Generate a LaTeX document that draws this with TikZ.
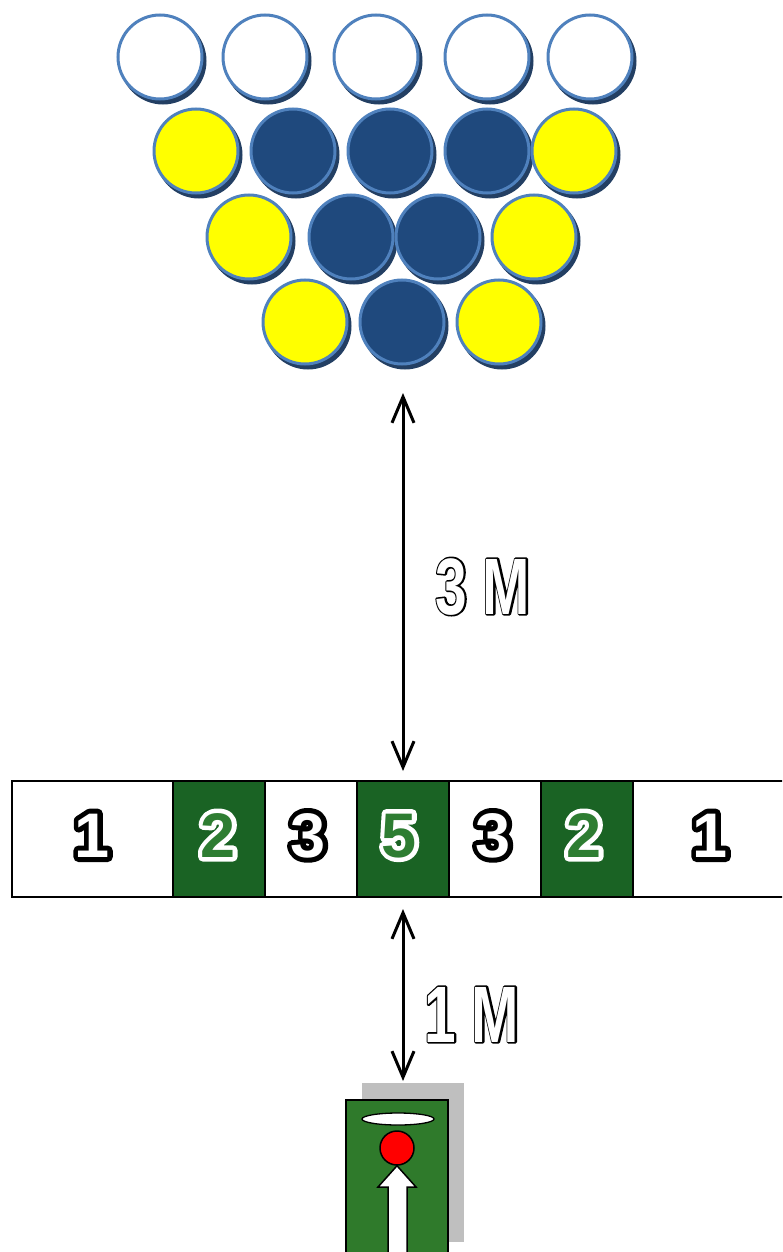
\documentclass[tikz,border=0pt]{standalone}
\usepackage{fontspec}
\usetikzlibrary{arrows.meta,shapes.geometric}
\setmainfont{Liberation Sans}
\newfontfamily\condfont[FakeStretch=0.71]{Liberation Sans}
% outlined text: stroke layer (colour as "r g b", width) under the filled text
\newcommand\outl[3]{\rlap{\special{pdf:literal direct 1 Tr #2 w 1 j 1 J #1 RG}#3\special{pdf:literal direct 0 Tr}}#3}
\definecolor{navy}{HTML}{1F497D}
\definecolor{rim}{HTML}{4F81BD}
\definecolor{shade}{HTML}{233F63}
\definecolor{pinyellow}{HTML}{FFFF00}
\definecolor{cellgreen}{HTML}{1A6324}
\definecolor{digitgreen}{HTML}{2E7D32}
\definecolor{playergreen}{HTML}{2F7A2B}
\definecolor{shadowgray}{HTML}{BFBFBF}
\tikzset{
  pin/.style={circle, minimum size=84pt, inner sep=0pt, draw=rim, line width=3pt,
    preaction={draw=shade, fill=shade, transform canvas={xshift=3pt, yshift=-4pt}}},
  whitepin/.style={pin, fill=white},
  yellowpin/.style={pin, fill=pinyellow},
  navypin/.style={pin, fill=navy},
  cellbox/.style={draw=black, line width=2pt, minimum height=116pt, anchor=north west, inner sep=0pt},
  whitecell/.style={cellbox, fill=white},
  greencell/.style={cellbox, fill=cellgreen},
  blackdigit/.style={anchor=base, text=white, font=\bfseries\fontsize{63}{65}\selectfont},
  greendigit/.style={anchor=base, text=digitgreen, font=\bfseries\fontsize{63}{65}\selectfont},
  distlabel/.style={anchor=base, text=white, font=\condfont\bfseries\fontsize{80}{82}\selectfont},
  measure/.style={line width=3pt, {Straight Barb[length=26pt,width=22pt]}-{Straight Barb[length=26pt,width=22pt]}},
}
\begin{document}
\begin{tikzpicture}[x=1pt,y=-1pt]
\useasboundingbox (0,0) rectangle (782,1252);
\clip (0,0) rectangle (782,1252);
% row 1
\node[whitepin] (w1) at (160,57) {};
\node[whitepin] (w2) at (265,57) {};
\node[whitepin] (w3) at (376,57) {};
\node[whitepin] (w4) at (487,57) {};
\node[whitepin] (w5) at (590,57) {};
% row 2
\node[yellowpin] (r2a) at (196,151) {};
\node[navypin] (r2b) at (293,151) {};
\node[navypin] (r2c) at (390,151) {};
\node[navypin] (r2d) at (487,151) {};
\node[yellowpin] (r2e) at (574,151) {};
% row 3
\node[yellowpin] (r3a) at (249,237) {};
\node[navypin] (r3b) at (351,237) {};
\node[navypin] (r3c) at (438,237) {};
\node[yellowpin] (r3d) at (534,237) {};
% row 4
\node[yellowpin] (r4a) at (305,322) {};
\node[navypin] (r4b) at (402,322) {};
\node[yellowpin] (r4c) at (499,322) {};

% bar
\node[whitecell, minimum width=161pt] (c1) at (11,780) {};
\node[greencell, minimum width=92pt] (c2) at (172,780) {};
\node[whitecell, minimum width=92pt] (c3) at (264,780) {};
\node[greencell, minimum width=92pt] (c4) at (356,780) {};
\node[whitecell, minimum width=92pt] (c5) at (448,780) {};
\node[greencell, minimum width=92pt] (c6) at (540,780) {};
\node[whitecell, minimum width=170pt] (c7) at (632,780) {};

\node[blackdigit] (d1) at (92,857) {\outl{0 0 0}{10}{1}};
\node[greendigit] (d2) at (218,857) {\outl{1 1 1}{9}{2}};
\node[blackdigit] (d3) at (308,857) {\outl{0 0 0}{10}{3}};
\node[greendigit] (d4) at (399,857) {\outl{1 1 1}{9}{5}};
\node[blackdigit] (d5) at (493,857) {\outl{0 0 0}{10}{3}};
\node[greendigit] (d6) at (584,857) {\outl{1 1 1}{9}{2}};
\node[blackdigit] (d7) at (710,857) {\outl{0 0 0}{10}{1}};

% measurement arrows
\coordinate (a1top) at (403,393);
\coordinate (a1bot) at (403,771);
\coordinate (a2top) at (403,909);
\coordinate (a2bot) at (403,1081);
\draw[measure] (a1top) -- (a1bot);
\draw[measure] (a2top) -- (a2bot);

\node[distlabel] (l3m) at (483,614) {\outl{0 0 0}{3.2}{3 M}};
\node[distlabel] (l1m) at (472,1042) {\outl{0 0 0}{3.2}{1 M}};

% player
\fill[shadowgray] (362,1083) rectangle (464,1242);
\node[draw=black, fill=playergreen, line width=2pt, minimum width=102pt, minimum height=180pt, anchor=north, inner sep=0pt] (player) at (397,1099) {};
\node[ellipse, draw=black, fill=white, line width=1.3pt, minimum width=72pt, minimum height=12pt, inner sep=0pt] (ring) at (398,1119) {};
\node[circle, draw=black, fill=red, line width=1.5pt, minimum size=34pt, inner sep=0pt] (ball) at (397,1148) {};
\draw[draw=black, fill=white, line width=1.5pt]
  (388,1262) -- (388,1187) -- (378,1187) -- (ball.south) -- (416,1187) -- (407,1187) -- (407,1262) -- cycle;
\end{tikzpicture}
\end{document}
